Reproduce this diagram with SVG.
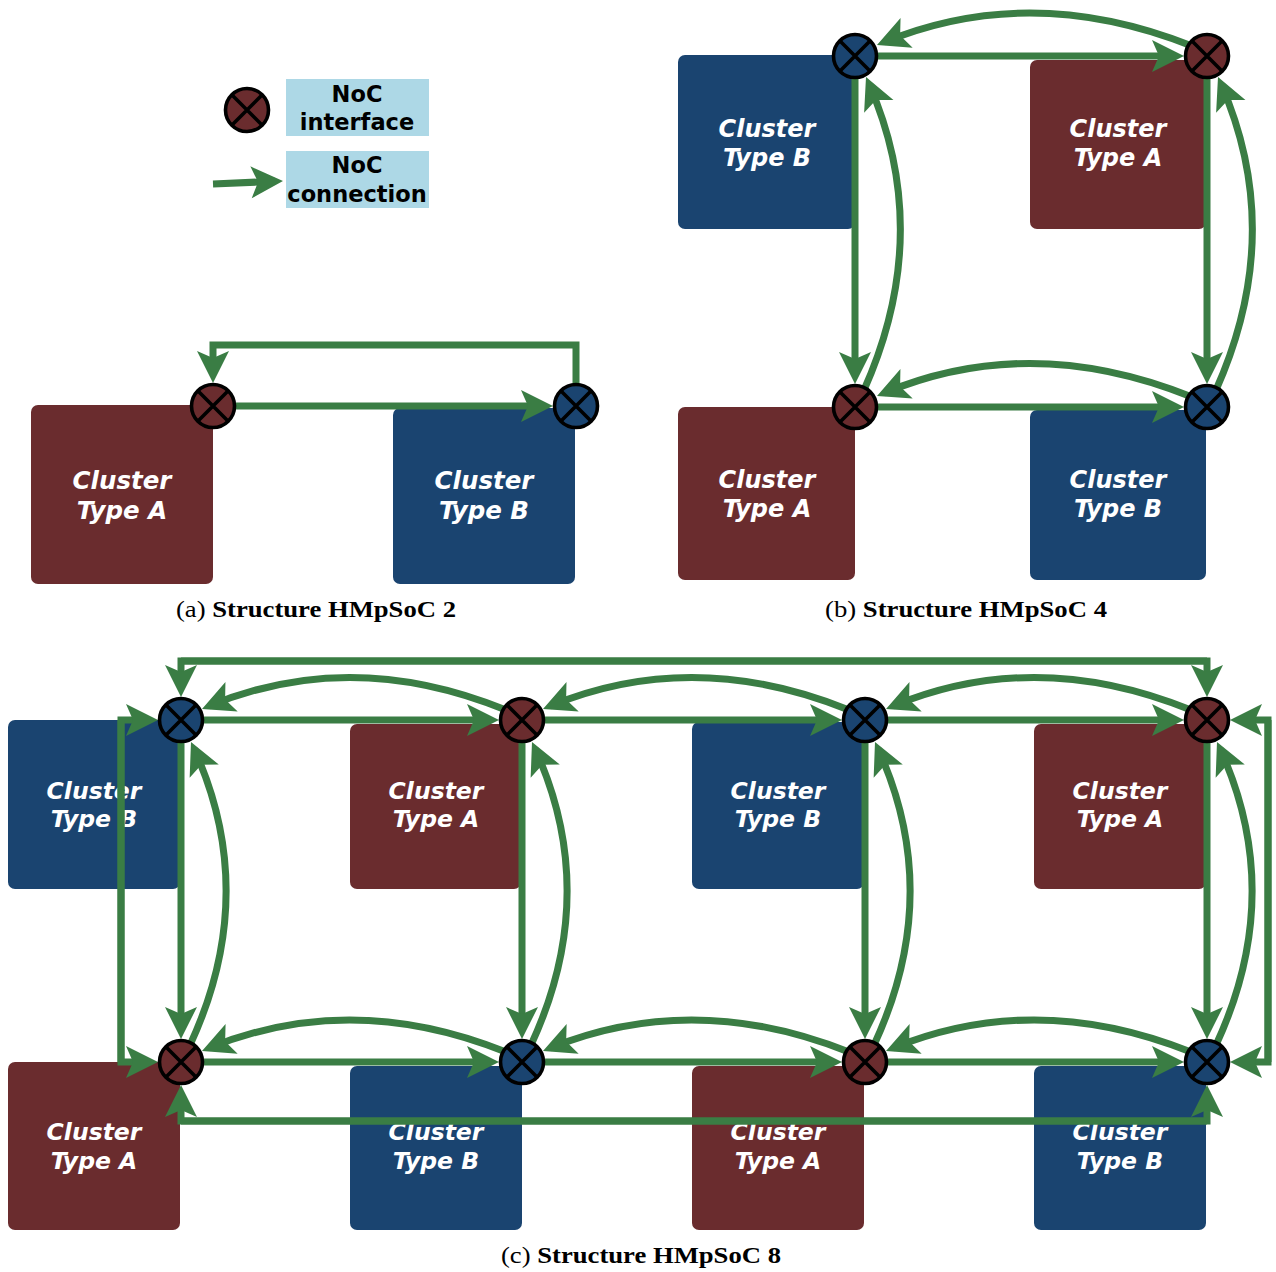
<svg xmlns="http://www.w3.org/2000/svg" width="1276" height="1272" viewBox="0 0 1276 1272">
<style>
.ra{fill:#6a2c2e}
.rb{fill:#1a4470}
.ct{font-family:"DejaVu Sans",sans-serif;font-weight:bold;font-style:italic;font-size:24px;fill:#fff;text-anchor:middle}
.ca{font-size:24.5px}
.cc{font-size:23.5px}
.lg{font-family:"DejaVu Sans",sans-serif;font-weight:bold;font-size:22.5px;fill:#000;text-anchor:middle}
.cap{font-family:"Liberation Serif",serif;font-size:24px;fill:#000;text-anchor:middle}
.cn{fill:none;stroke:#3a7d44;stroke-width:7;stroke-linejoin:miter;marker-end:url(#ah)}
.ci{stroke:#000;stroke-width:3.6}
.x{fill:none;stroke:#000;stroke-width:3.6}
</style>
<defs>
<marker id="ah" viewBox="-26 -17 36 34" markerWidth="36" markerHeight="34" refX="0" refY="0" orient="auto" markerUnits="userSpaceOnUse">
<path d="M8 0 L-24 -16 L-17 0 L-24 16 Z" fill="#3a7d44"/>
</marker>
<g id="ifc-x"><path class="x" d="M-15.2 -15.2 L15.2 15.2 M15.2 -15.2 L-15.2 15.2"/></g>
</defs>
<rect width="1276" height="1272" fill="#fff"/>

<!-- Legend -->
<g id="legend">
<g id="legend-interface" transform="translate(247,110)"><circle r="21.5" class="ra ci"/><use href="#ifc-x"/></g>
<rect x="286" y="79" width="143" height="57" fill="#add8e6"/>
<text class="lg" x="357" y="102">NoC</text>
<text class="lg" x="357" y="130">interface</text>
<path class="cn" d="M213 184 L275 181.3"/>
<rect x="286" y="151" width="143" height="57" fill="#add8e6"/>
<text class="lg" x="357" y="173">NoC</text>
<text class="lg" x="357" y="202">connection</text>
</g>

<!-- Clusters (a) -->
<g id="a-cluster-A"><rect class="ra" x="31" y="405" width="182" height="179" rx="7"/><text class="ct ca" x="122" y="489">Cluster</text><text class="ct ca" x="122" y="519">Type A</text></g>
<g id="a-cluster-B"><rect class="rb" x="393" y="408" width="182" height="176" rx="7"/><text class="ct ca" x="484" y="489">Cluster</text><text class="ct ca" x="484" y="519">Type B</text></g>

<!-- Clusters (b) -->
<g id="b-cluster-1"><rect class="rb" x="678" y="55" width="177" height="174" rx="7"/><text class="ct" x="767" y="137">Cluster</text><text class="ct" x="767" y="166">Type B</text></g>
<g id="b-cluster-2"><rect class="ra" x="1030" y="60" width="176" height="169" rx="7"/><text class="ct" x="1118" y="137">Cluster</text><text class="ct" x="1118" y="166">Type A</text></g>
<g id="b-cluster-3"><rect class="ra" x="678" y="407" width="177" height="173" rx="7"/><text class="ct" x="767" y="488">Cluster</text><text class="ct" x="767" y="517">Type A</text></g>
<g id="b-cluster-4"><rect class="rb" x="1030" y="410" width="176" height="170" rx="7"/><text class="ct" x="1118" y="488">Cluster</text><text class="ct" x="1118" y="517">Type B</text></g>

<!-- Clusters (c) -->
<g id="c-cluster-1"><rect class="rb" x="8" y="720" width="172" height="169" rx="7"/><text class="ct cc" x="94" y="799">Cluster</text><text class="ct cc" x="94" y="827">Type B</text></g>
<g id="c-cluster-2"><rect class="ra" x="350" y="724" width="171" height="165" rx="7"/><text class="ct cc" x="436" y="799">Cluster</text><text class="ct cc" x="436" y="827">Type A</text></g>
<g id="c-cluster-3"><rect class="rb" x="692" y="722" width="172" height="167" rx="7"/><text class="ct cc" x="778" y="799">Cluster</text><text class="ct cc" x="778" y="827">Type B</text></g>
<g id="c-cluster-4"><rect class="ra" x="1034" y="724" width="172" height="165" rx="7"/><text class="ct cc" x="1120" y="799">Cluster</text><text class="ct cc" x="1120" y="827">Type A</text></g>
<g id="c-cluster-5"><rect class="ra" x="8" y="1062" width="172" height="168" rx="7"/><text class="ct cc" x="94" y="1140">Cluster</text><text class="ct cc" x="94" y="1169">Type A</text></g>
<g id="c-cluster-6"><rect class="rb" x="350" y="1066" width="172" height="164" rx="7"/><text class="ct cc" x="436" y="1140">Cluster</text><text class="ct cc" x="436" y="1169">Type B</text></g>
<g id="c-cluster-7"><rect class="ra" x="692" y="1066" width="172" height="164" rx="7"/><text class="ct cc" x="778" y="1140">Cluster</text><text class="ct cc" x="778" y="1169">Type A</text></g>
<g id="c-cluster-8"><rect class="rb" x="1034" y="1066" width="172" height="164" rx="7"/><text class="ct cc" x="1120" y="1140">Cluster</text><text class="ct cc" x="1120" y="1169">Type B</text></g>

<!-- Connectors -->
<g id="connectors">
<!-- (a) -->
<path class="cn" d="M236 406 H545"/>
<path class="cn" d="M576 384 V345 H213 V375"/>
<!-- (b) -->
<path class="cn" d="M878 56 H1176"/>
<path class="cn" d="M878 407 H1176"/>
<path class="cn" d="M855 79 V376"/>
<path class="cn" d="M1207 79 V376"/>
<path class="cn" d="M1192 46 Q1031 -18 884.4 42"/>
<path class="cn" d="M1192 397 Q1031 332 884.4 392.9"/>
<path class="cn" d="M864 390 Q934 233 869.2 84.3"/>
<path class="cn" d="M1216 390 Q1286 233 1221.2 84.3"/>
<!-- (c) horizontal straight -->
<path class="cn" d="M204 720 H491"/>
<path class="cn" d="M545 720 H834"/>
<path class="cn" d="M888 720 H1176"/>
<path class="cn" d="M204 1062 H491"/>
<path class="cn" d="M545 1062 H834"/>
<path class="cn" d="M888 1062 H1176"/>
<!-- (c) vertical straight -->
<path class="cn" d="M181 743 V1031"/>
<path class="cn" d="M522 743 V1031"/>
<path class="cn" d="M865 743 V1031"/>
<path class="cn" d="M1207 743 V1031"/>
<!-- (c) horizontal arcs -->
<path class="cn" d="M506 710 Q351.5 647 209.4 705.9"/>
<path class="cn" d="M849 710 Q693.5 647 550.4 705.9"/>
<path class="cn" d="M1191 710 Q1036 647 893.4 705.9"/>
<path class="cn" d="M506 1052 Q351.5 990 209.4 1047.9"/>
<path class="cn" d="M849 1052 Q693.5 990 550.4 1047.9"/>
<path class="cn" d="M1191 1052 Q1036 990 893.4 1047.9"/>
<!-- (c) vertical arcs -->
<path class="cn" d="M190 1045 Q260 894 194.3 749.3"/>
<path class="cn" d="M531 1045 Q601 894 535.3 749.3"/>
<path class="cn" d="M874 1045 Q944 894 878.3 749.3"/>
<path class="cn" d="M1216 1045 Q1286 894 1220.3 749.3"/>
<!-- (c) wrap-around -->
<path class="cn" d="M181 661 H1207 V689"/>
<path class="cn" d="M1207 661 H181 V689"/>
<path class="cn" d="M181 1121 H1207 V1093"/>
<path class="cn" d="M1207 1121 H181 V1093"/>
<path class="cn" d="M121 1062 V720 H150"/>
<path class="cn" d="M121 720 V1062 H150"/>
<path class="cn" d="M1268 1062 V720 H1238"/>
<path class="cn" d="M1268 720 V1062 H1238"/>
</g>

<!-- Interfaces -->
<g id="a-ifc-1" transform="translate(213,406)"><circle r="21.5" class="ra ci"/><use href="#ifc-x"/></g>
<g id="a-ifc-2" transform="translate(576,406)"><circle r="21.5" class="rb ci"/><use href="#ifc-x"/></g>
<g id="b-ifc-1" transform="translate(855,56)"><circle r="21.5" class="rb ci"/><use href="#ifc-x"/></g>
<g id="b-ifc-2" transform="translate(1207,56)"><circle r="21.5" class="ra ci"/><use href="#ifc-x"/></g>
<g id="b-ifc-3" transform="translate(855,407)"><circle r="21.5" class="ra ci"/><use href="#ifc-x"/></g>
<g id="b-ifc-4" transform="translate(1207,407)"><circle r="21.5" class="rb ci"/><use href="#ifc-x"/></g>
<g id="c-ifc-1" transform="translate(181,720)"><circle r="21.5" class="rb ci"/><use href="#ifc-x"/></g>
<g id="c-ifc-2" transform="translate(522,720)"><circle r="21.5" class="ra ci"/><use href="#ifc-x"/></g>
<g id="c-ifc-3" transform="translate(865,720)"><circle r="21.5" class="rb ci"/><use href="#ifc-x"/></g>
<g id="c-ifc-4" transform="translate(1207,720)"><circle r="21.5" class="ra ci"/><use href="#ifc-x"/></g>
<g id="c-ifc-5" transform="translate(181,1062)"><circle r="21.5" class="ra ci"/><use href="#ifc-x"/></g>
<g id="c-ifc-6" transform="translate(522,1062)"><circle r="21.5" class="rb ci"/><use href="#ifc-x"/></g>
<g id="c-ifc-7" transform="translate(865,1062)"><circle r="21.5" class="ra ci"/><use href="#ifc-x"/></g>
<g id="c-ifc-8" transform="translate(1207,1062)"><circle r="21.5" class="rb ci"/><use href="#ifc-x"/></g>

<!-- Captions -->
<text class="cap" x="316" y="617" textLength="280" lengthAdjust="spacingAndGlyphs">(a) <tspan font-weight="bold">Structure HMpSoC 2</tspan></text>
<text class="cap" x="966" y="617" textLength="282" lengthAdjust="spacingAndGlyphs">(b) <tspan font-weight="bold">Structure HMpSoC 4</tspan></text>
<text class="cap" x="641" y="1263" textLength="280" lengthAdjust="spacingAndGlyphs">(c) <tspan font-weight="bold">Structure HMpSoC 8</tspan></text>
</svg>
